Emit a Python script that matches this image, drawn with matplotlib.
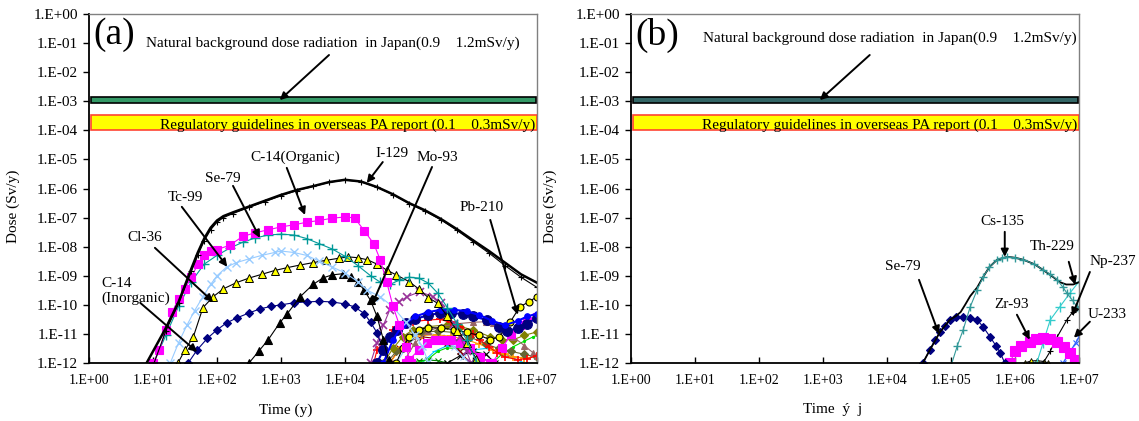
import numpy as np
import matplotlib.pyplot as plt

plt.rcParams['font.family'] = ['Liberation Serif', 'DejaVu Serif']

# ---- data: log10(time [y]) and log10(dose [Sv/y]) ----
# panel (a)
total_a_t = [0.85, 1.0, 1.2, 1.4, 1.6, 1.7, 1.8, 1.9, 2.0, 2.1, 2.25, 2.5, 2.75, 3.0, 3.25, 3.5, 3.75, 4.0,
             4.25, 4.5, 4.75, 5.0, 5.25, 5.5, 5.75, 6.0, 6.25, 6.5, 6.75, 7.0]
total_a_d = [-12.2, -11.6, -10.8, -9.9, -8.75, -8.2, -7.72, -7.35, -7.1, -6.95, -6.82, -6.62, -6.42, -6.22,
             -6.05, -5.92, -5.78, -5.70, -5.76, -5.95, -6.2, -6.5, -6.75, -7.05, -7.4, -7.78, -8.15, -8.55,
             -8.95, -9.24]
i129_t = [1.0, 1.2, 1.4, 1.6, 1.7, 1.8, 1.9, 2.0, 2.1, 2.25, 2.5, 2.75, 3.0, 3.25, 3.5, 3.75, 4.0,
          4.25, 4.5, 4.75, 5.0, 5.25, 5.5, 5.75, 6.0, 6.25, 6.5, 6.75, 7.0]
i129_d = [-12.1, -10.9, -9.95, -8.85, -8.3, -7.8, -7.42, -7.16, -7.0, -6.86, -6.65, -6.45, -6.25, -6.07,
          -5.93, -5.79, -5.71, -5.77, -5.96, -6.21, -6.52, -6.78, -7.08, -7.44, -7.83, -8.22, -8.65, -9.05, -9.4]
c14org_t = [1.0, 1.1, 1.2, 1.3, 1.4, 1.5, 1.6, 1.7, 1.8, 1.9, 2.0, 2.2, 2.4, 2.6, 2.8, 3.0, 3.2, 3.4,
            3.6, 3.8, 4.0, 4.15, 4.3, 4.45, 4.55, 4.65, 4.75, 4.85, 4.95, 5.03]
c14org_d = [-12.0, -11.55, -10.85, -10.25, -9.8, -9.45, -9.05, -8.6, -8.3, -8.15, -8.1, -7.95, -7.65, -7.52, -7.42,
            -7.32, -7.25, -7.16, -7.1, -7.02, -6.98, -7.01, -7.45, -7.9, -8.45, -9.2, -10.05, -10.7, -11.45, -12.0]
se79a_t = [1.0, 1.2, 1.4, 1.6, 1.8, 2.0, 2.2, 2.4, 2.6, 2.8, 3.0, 3.2, 3.4, 3.6, 3.8, 4.0, 4.2, 4.4,
           4.55, 4.7, 4.85, 5.0, 5.15, 5.3, 5.45, 5.6, 5.75, 5.9, 6.05]
se79a_d = [-12.05, -11.05, -10.05, -9.2, -8.6, -8.3, -8.05, -7.85, -7.7, -7.6, -7.57, -7.6, -7.72, -7.9,
           -8.08, -8.33, -8.65, -9.0, -9.22, -9.3, -9.15, -9.05, -9.08, -9.25, -9.6, -10.1, -10.65, -11.2, -11.95]
tc99_t = [1.27, 1.4, 1.53, 1.65, 1.78, 1.9, 2.0, 2.15, 2.3, 2.5, 2.7, 2.9, 3.0, 3.2, 3.4, 3.6, 3.8, 4.0,
          4.2, 4.35, 4.55, 4.75, 4.95, 5.1, 5.2, 5.3]
tc99_d = [-12.0, -11.3, -10.7, -10.2, -9.72, -9.3, -9.0, -8.7, -8.55, -8.42, -8.3, -8.2, -8.15, -8.2, -8.3,
          -8.5, -8.7, -8.9, -9.2, -9.5, -9.72, -10.07, -10.6, -11.05, -11.4, -11.95]
cl36_t = [1.39, 1.5, 1.63, 1.78, 1.94, 2.1, 2.3, 2.5, 2.7, 2.9, 3.1, 3.3, 3.5, 3.7, 3.9, 4.05, 4.2, 4.35,
          4.5, 4.65, 4.8, 5.0, 5.15, 5.3, 5.45, 5.6, 5.75, 5.9, 6.05]
cl36_d = [-12.0, -11.55, -11.1, -10.1, -9.72, -9.45, -9.24, -9.08, -8.95, -8.82, -8.72, -8.63, -8.55, -8.47,
          -8.4, -8.35, -8.38, -8.45, -8.6, -8.8, -8.97, -9.2, -9.45, -9.75, -9.95, -10.4, -10.9, -11.3, -11.85]
mo93_t = [2.5, 2.65, 2.8, 2.98, 3.1, 3.3, 3.5, 3.66, 3.8, 3.97, 4.1, 4.2, 4.3, 4.4, 4.5, 4.6, 4.68]
mo93_d = [-12.0, -11.6, -11.2, -10.62, -10.3, -9.72, -9.3, -9.07, -8.97, -8.93, -9.05, -9.2, -9.5, -9.85,
          -10.4, -11.2, -11.9]
c14inorg_t = [1.55, 1.69, 1.85, 2.0, 2.15, 2.31, 2.5, 2.67, 2.85, 3.0, 3.2, 3.4, 3.6, 3.8, 4.0, 4.15,
              4.3, 4.4, 4.5, 4.6, 4.68]
c14inorg_d = [-12.0, -11.55, -11.15, -10.86, -10.62, -10.45, -10.28, -10.14, -10.05, -10.0, -9.93, -9.9,
              -9.88, -9.9, -9.97, -10.07, -10.3, -10.6, -10.96, -11.55, -12.0]
pb210_t = [4.8, 4.9, 5.0, 5.15, 5.3, 5.5, 5.7, 5.9, 6.1, 6.27, 6.4, 6.58, 6.73, 6.87, 7.0]
pb210_d = [-12.0, -11.5, -11.1, -10.85, -10.78, -10.8, -10.85, -10.95, -11.05, -11.2, -11.1, -10.6, -10.07,
           -9.9, -9.72]
# unlabelled nuclides of the late cluster in panel (a)
purple_t = [4.4, 4.5, 4.6, 4.7, 4.85, 4.97, 5.17, 5.38, 5.5, 5.59, 5.7, 5.8, 5.9, 5.97]
purple_d = [-12.0, -11.3, -10.7, -10.17, -9.9, -9.72, -9.55, -9.72, -9.95, -10.28, -10.65, -11.1, -11.6, -12.0]
navy_t = [4.5, 4.6, 4.7, 4.81, 4.95, 5.1, 5.3, 5.48, 5.65, 5.84, 6.0, 6.22, 6.4, 6.53, 6.7, 6.84, 7.0]
navy_d = [-12.0, -11.55, -11.1, -10.86, -10.62, -10.48, -10.36, -10.28, -10.27, -10.32, -10.4, -10.52,
          -10.75, -10.9, -10.8, -10.65, -10.45]
blue_t = [4.6, 4.75, 4.9, 5.1, 5.3, 5.5, 5.7, 5.9, 6.1, 6.3, 6.5, 6.7, 6.85, 7.0]
blue_d = [-12.0, -11.2, -10.7, -10.4, -10.25, -10.17, -10.17, -10.22, -10.35, -10.55, -10.7, -10.55, -10.4, -10.3]
red_t = [4.45, 4.5, 4.75, 5.06, 5.3, 5.48, 5.65, 5.8, 6.0, 6.11, 6.25, 6.38, 6.5, 6.7, 6.85, 7.0]
red_d = [-12.0, -11.55, -10.86, -10.58, -10.52, -10.5, -10.6, -10.76, -11.0, -11.2, -11.45, -11.65, -11.8,
         -11.88, -11.85, -11.75]
olive_t = [4.6, 4.75, 4.9, 5.06, 5.3, 5.59, 5.8, 6.0, 6.27, 6.45, 6.63, 6.8, 7.0]
olive_d = [-12.0, -11.5, -11.1, -10.86, -10.75, -10.69, -10.75, -10.86, -11.1, -11.2, -11.2, -11.05, -10.93]
darkolive_t = [4.65, 4.8, 5.0, 5.2, 5.45, 5.7, 5.95, 6.2, 6.4, 6.6, 6.8, 7.0]
darkolive_d = [-12.0, -11.6, -11.15, -10.95, -10.9, -10.95, -11.1, -11.35, -11.5, -11.6, -11.7, -11.8]
orange_t = [4.7, 4.85, 4.97, 5.2, 5.44, 5.65, 5.9, 6.1, 6.31, 6.5, 6.63, 6.8, 7.0]
orange_d = [-12.0, -11.55, -11.2, -11.05, -11.03, -11.08, -11.2, -11.35, -11.55, -11.7, -11.79, -11.82, -11.79]
magenta2_t = [4.95, 5.0, 5.15, 5.28, 5.4, 5.53, 5.65, 5.8, 5.95, 6.11, 6.27]
magenta2_d = [-12.0, -11.9, -11.55, -11.3, -11.22, -11.2, -11.22, -11.3, -11.5, -11.79, -12.0]
magenta3_t = [6.3, 6.45, 6.6, 6.73, 6.85, 7.0]
magenta3_d = [-12.0, -11.5, -11.0, -10.69, -10.55, -10.41]
green_t = [5.1, 5.28, 5.45, 5.59, 5.75, 5.9, 6.1, 6.27]
green_d = [-12.0, -11.9, -11.6, -11.48, -11.5, -11.55, -11.75, -12.0]
green2_t = [6.3, 6.45, 6.63, 6.8, 6.94, 7.0]
green2_d = [-12.0, -11.7, -11.44, -11.25, -11.1, -11.05]
sky_t = [5.2, 5.4, 5.6, 5.8, 6.0, 6.2, 6.4, 6.6, 6.8]
sky_d = [-12.0, -11.6, -11.4, -11.45, -11.55, -11.5, -11.6, -11.8, -12.0]
mauve_t = [4.9, 5.1, 5.3, 5.5, 5.75, 6.0, 6.2, 6.31, 6.5, 6.63, 6.8, 6.94, 7.0]
mauve_d = [-12.0, -11.3, -10.9, -10.75, -10.65, -10.6, -10.58, -10.62, -10.85, -11.1, -11.4, -11.65, -11.75]
dkgreen_t = [5.0, 5.15, 5.3, 5.45, 5.6]
dkgreen_d = [-12.0, -11.92, -11.9, -11.92, -12.0]
ltblue2_t = [4.8, 4.95, 5.1, 5.3, 5.5, 5.7, 5.85, 5.95]
ltblue2_d = [-12.0, -11.5, -11.1, -10.95, -11.1, -11.45, -11.8, -12.0]
maroon_t = [4.7, 4.85, 5.0, 5.2, 5.4, 5.6, 5.8, 5.95]
maroon_d = [-12.0, -11.5, -11.25, -11.1, -11.15, -11.3, -11.6, -12.0]
blackx_t = [5.6, 5.8, 6.0, 6.2, 6.35]
blackx_d = [-12.0, -11.75, -11.6, -11.7, -12.0]

# panel (b)
total_b_t = [4.5, 4.56, 4.67, 4.83, 4.98, 5.08, 5.15, 5.22, 5.3, 5.41, 5.5, 5.6, 5.72, 5.88, 6.0, 6.13,
             6.3, 6.44, 6.6, 6.7, 6.8, 6.91, 7.0]
total_b_d = [-12.2, -12.0, -11.55, -10.93, -10.52, -10.38, -10.25, -10.0, -9.7, -9.4, -9.05, -8.7, -8.45,
             -8.35, -8.38, -8.45, -8.6, -8.8, -9.05, -9.22, -9.3, -9.3, -9.22]
se79b_t = [4.5, 4.56, 4.67, 4.75, 4.83, 4.9, 4.98, 5.08, 5.19, 5.3, 5.41, 5.5, 5.61, 5.7, 5.77, 5.84]
se79b_d = [-12.2, -12.0, -11.55, -11.2, -10.93, -10.72, -10.52, -10.43, -10.41, -10.45, -10.52, -10.75,
           -11.1, -11.4, -11.65, -12.0]
cs135_t = [5.0, 5.1, 5.19, 5.3, 5.41, 5.5, 5.6, 5.72, 5.8, 5.88, 6.0, 6.13, 6.3, 6.44, 6.55, 6.66, 6.75,
           6.81, 6.9, 6.97, 7.0]
cs135_d = [-12.1, -11.4, -10.86, -10.07, -9.48, -9.05, -8.7, -8.45, -8.38, -8.35, -8.38, -8.45, -8.6, -8.8,
           -8.95, -9.14, -9.4, -9.59, -9.85, -10.07, -10.15]
th229_t = [6.3, 6.34, 6.44, 6.55, 6.7, 6.86, 7.0]
th229_d = [-12.1, -12.0, -11.3, -10.52, -10.07, -9.59, -9.2]
np237_t = [6.44, 6.55, 6.66, 6.81, 6.9, 7.0]
np237_d = [-12.0, -11.6, -11.1, -10.52, -10.25, -10.07]
u233_t = [6.75, 6.85, 6.95, 7.0]
u233_d = [-12.0, -11.65, -11.3, -11.1]
zr93_t = [5.92, 6.0, 6.1, 6.23, 6.33, 6.44, 6.55, 6.66, 6.76, 6.86, 6.94, 6.97]
zr93_d = [-12.0, -11.6, -11.4, -11.27, -11.18, -11.13, -11.17, -11.27, -11.45, -11.65, -11.9, -12.0]
yel_b_t = [6.15, 6.25, 6.35, 6.45, 6.52]
yel_b_d = [-12.0, -11.93, -11.92, -11.95, -12.0]
mauve_b_t = [6.9, 6.95, 7.0]
mauve_b_d = [-12.0, -11.9, -11.85]

# guideline bands (Sv/y)
natural_band = [0.9e-3, 1.35e-3]
regulatory_band = [1.0e-4, 3.3e-4]

ytick_vals = [1e0, 1e-1, 1e-2, 1e-3, 1e-4, 1e-5, 1e-6, 1e-7, 1e-8, 1e-9, 1e-10, 1e-11, 1e-12]
ytick_labels = ['1.E+00', '1.E-01', '1.E-02', '1.E-03', '1.E-04', '1.E-05', '1.E-06',
                '1.E-07', '1.E-08', '1.E-09', '1.E-10', '1.E-11', '1.E-12']
xtick_vals = [1e0, 1e1, 1e2, 1e3, 1e4, 1e5, 1e6, 1e7]
xtick_labels = ['1.E+00', '1.E+01', '1.E+02', '1.E+03', '1.E+04', '1.E+05', '1.E+06', '1.E+07']

natural_text = 'Natural background dose radiation  in Japan(0.9    1.2mSv/y)'
regulatory_text = 'Regulatory guidelines in overseas PA report (0.1    0.3mSv/y)'


def st(color, marker=None, mfc=None, mec=None, ms=4, lw=0.8, mew=0.8):
    return dict(color=color, marker=marker, mfc=mfc if mfc else color, mec=mec if mec else color,
                ms=ms, lw=lw, mew=mew)


curves_a = [
    (sky_t, sky_d, st('#00CCFF', '_', ms=4)),
    (dkgreen_t, dkgreen_d, st('#008000', 'x', ms=4)),
    (green_t, green_d, st('#00DD00', '.', ms=3)),
    (green2_t, green2_d, st('#00DD00', '.', ms=3)),
    (blackx_t, blackx_d, st('black', 'x', ms=4)),
    (maroon_t, maroon_d, st('#800000', 'x', ms=5)),
    (ltblue2_t, ltblue2_d, st('#99CCFF', 'x', ms=5)),
    (orange_t, orange_d, st('#FF9900', '+', ms=6, mew=1.2)),
    (darkolive_t, darkolive_d, st('#666633', 'D', ms=4)),
    (olive_t, olive_d, st('#808000', 'D', ms=4)),
    (mauve_t, mauve_d, st('#996666', '^', ms=5)),
    (magenta2_t, magenta2_d, st('#FF00FF', 's', ms=6)),
    (magenta3_t, magenta3_d, st('#FF00FF', 's', ms=6)),
    (red_t, red_d, st('#FF0000', '+', ms=6, mew=1.2)),
    (pb210_t, pb210_d, st('black', 'o', mfc='#FFFF00', mec='black', ms=5)),
    (purple_t, purple_d, st('#993399', 'x', ms=6, mew=1.2)),
    (navy_t, navy_d, st('#0000CC', 'o', mfc='#000080', mec='#000080', ms=7, lw=1.5)),
    (blue_t, blue_d, st('#0000FF', 'o', mfc='#0000FF', ms=4, lw=1.5)),
    (c14inorg_t, c14inorg_d, st('#000080', 'D', ms=4.5)),
    (mo93_t, mo93_d, st('black', '^', ms=6)),
    (cl36_t, cl36_d, st('black', '^', mfc='#FFFF00', mec='black', ms=6, mew=0.7)),
    (tc99_t, tc99_d, st('#99CCFF', 'x', ms=6, mew=1.0)),
    (se79a_t, se79a_d, st('#009999', '+', ms=7, mew=1.0)),
    (c14org_t, c14org_d, st('#FF00FF', 's', ms=6)),
    (i129_t, i129_d, st('black', '+', ms=5, lw=0.8)),
    (total_a_t, total_a_d, st('black', None, lw=1.8)),
]

curves_b = [
    (mauve_b_t, mauve_b_d, st('#993366', 's', ms=5)),
    (yel_b_t, yel_b_d, st('black', '^', mfc='#FFFF00', mec='black', ms=5, mew=0.6)),
    (u233_t, u233_d, st('#3366FF', 'x', ms=4, lw=1.0)),
    (np237_t, np237_d, st('black', '+', ms=4)),
    (th229_t, th229_d, st('#33CCCC', '+', ms=7, mew=1.0)),
    (zr93_t, zr93_d, st('#FF00FF', 's', ms=7)),
    (se79b_t, se79b_d, st('#000080', 'D', ms=4.5)),
    (total_b_t, total_b_d, st('black', None, lw=1.3)),
    (cs135_t, cs135_d, st('#339999', '+', ms=6, mew=1.0)),
]

W, H = 1139, 421
fig = plt.figure(figsize=(W / 100, H / 100), dpi=100)


def setup(left_px, band_color, curves):
    ax = fig.add_axes([left_px / W, 1 - 363 / H, 448 / W, 349 / H])
    ax.set_xscale('log')
    ax.set_yscale('log')
    ax.set_xlim(1e0, 1e7)
    ax.set_ylim(1e-12, 1e0)
    for t, d, s in curves:
        ax.plot(10 ** np.array(t), 10 ** np.array(d), **s)
    ax.axhspan(natural_band[0], natural_band[1], xmin=0.005, xmax=0.998,
               fc=band_color, ec='black', lw=1.2, zorder=3)
    ax.axhspan(regulatory_band[0], regulatory_band[1], xmin=0.005, xmax=1.0,
               fc='#FFFF00', ec='#FF4433', lw=1.2, zorder=3)
    ax.text(0.995, 1.55e-4, regulatory_text, transform=ax.get_yaxis_transform(),
            ha='right', va='center', fontsize=11, zorder=4)
    ax.set_yticks(ytick_vals)
    ax.set_yticklabels(ytick_labels, fontsize=11)
    ax.set_xticks(xtick_vals)
    ax.set_xticklabels(xtick_labels, fontsize=10)
    ax.minorticks_off()
    ax.tick_params(axis='y', direction='out', length=4, width=1, pad=4)
    ax.tick_params(axis='x', direction='in', length=4, width=1, pad=8)
    ax.spines['left'].set_linewidth(1.3)
    ax.spines['bottom'].set_linewidth(1.3)
    for side in ['top', 'right']:
        ax.spines[side].set_color('#808080')
        ax.spines[side].set_linewidth(1.0)
    return ax


def arrow(ax, start, end):
    ax.annotate('', xy=(10 ** end[0], 10 ** end[1]), xytext=(10 ** start[0], 10 ** start[1]),
                arrowprops=dict(arrowstyle='-|>', color='black', lw=1.4, mutation_scale=11,
                                shrinkA=0, shrinkB=0), zorder=5)


def label(ax, pos, s, ha='center'):
    ax.text(10 ** pos[0], 10 ** pos[1], s, ha=ha, va='center', fontsize=11, zorder=5)


# ---- panel (a) ----
ax1 = setup(89, '#339966', curves_a)
ax1.text(0.01, 0.94, '(a)', transform=ax1.transAxes, fontsize=27, ha='left', va='center')
ax1.text(0.962, 1.0e-1, natural_text, transform=ax1.get_yaxis_transform(),
         ha='right', va='center', fontsize=11)
arrow(ax1, (3.75, -1.41), (2.98, -2.96))
label(ax1, (3.22, -4.91), 'C-14(Organic)')
arrow(ax1, (3.09, -5.29), (3.375, -6.91))
label(ax1, (4.73, -4.78), 'I-129')
arrow(ax1, (4.59, -5.09), (4.34, -5.81))
label(ax1, (5.45, -4.95), 'Mo-93')
arrow(ax1, (5.36, -5.26), (4.42, -10.0))
label(ax1, (2.09, -5.64), 'Se-79')
arrow(ax1, (2.25, -5.91), (2.67, -7.70))
label(ax1, (1.5, -6.32), 'Tc-99')
arrow(ax1, (1.45, -6.63), (2.16, -8.69))
label(ax1, (0.875, -7.70), 'Cl-36')
arrow(ax1, (1.03, -8.04), (1.94, -9.90))
ax1.text(10 ** 0.2, 10 ** -9.52, 'C-14\n(Inorganic)', ha='left', va='center', fontsize=11,
         linespacing=1.15, zorder=5)
arrow(ax1, (0.8, -9.93), (1.69, -11.62))
label(ax1, (6.14, -6.67), 'Pb-210')
arrow(ax1, (6.27, -7.08), (6.70, -10.34))
ax1.set_ylabel('Dose (Sv/y)', fontsize=11, labelpad=8)
ax1.yaxis.set_label_coords(-0.155, 0.45)
ax1.set_xlabel('Time (y)', fontsize=11, labelpad=4)
ax1.xaxis.set_label_coords(0.44, -0.115)

# ---- panel (b) ----
ax2 = setup(631, '#336666', curves_b)
ax2.text(0.01, 0.94, '(b)', transform=ax2.transAxes, fontsize=27, ha='left', va='center')
ax2.text(0.9955, 0.15, natural_text, transform=ax2.get_yaxis_transform(),
         ha='right', va='center', fontsize=11)
arrow(ax2, (3.73, -1.41), (2.95, -2.96))
label(ax2, (5.81, -7.15), 'Cs-135')
arrow(ax2, (5.84, -7.49), (5.84, -8.35))
label(ax2, (6.58, -8.0), 'Th-229')
arrow(ax2, (6.84, -8.52), (6.94, -9.31))
label(ax2, (7.53, -8.52), 'Np-237')
arrow(ax2, (7.17, -8.87), (6.89, -10.38))
label(ax2, (7.44, -10.34), 'U-233')
arrow(ax2, (7.17, -10.58), (6.92, -11.13))
label(ax2, (5.95, -10.0), 'Zr-93')
arrow(ax2, (6.03, -10.34), (6.23, -11.2))
label(ax2, (4.25, -8.69), 'Se-79')
arrow(ax2, (4.5, -9.14), (4.81, -11.0))
ax2.set_ylabel('Dose (Sv/y)', fontsize=11, labelpad=8)
ax2.yaxis.set_label_coords(-0.165, 0.45)
ax2.set_xlabel('Time  ý  j', fontsize=11, labelpad=4)
ax2.xaxis.set_label_coords(0.45, -0.115)

fig.savefig('out.png', dpi=100)
